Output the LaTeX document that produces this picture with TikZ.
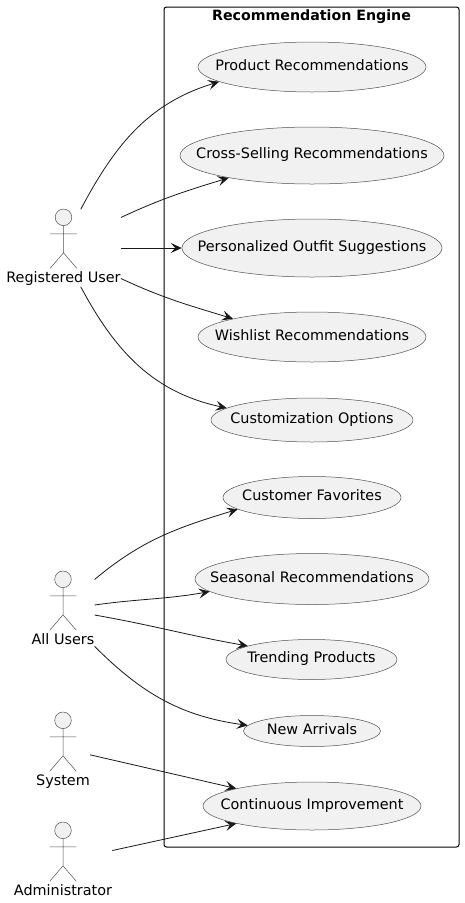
\documentclass[tikz,border=0pt]{standalone}
\usepackage{fontspec}
\setmainfont{DejaVu Sans}
\usetikzlibrary {arrows.meta, positioning, shapes.geometric}

\definecolor{ucfill}{HTML}{F1F1F1}
\definecolor{ucline}{HTML}{181818}
\definecolor{ucthin}{HTML}{505050}

\tikzset{
    usecase/.style = {ellipse, draw = ucthin, line width = 0.5pt, fill = ucfill, inner sep = -40pt, text height = 10pt, text depth = 3.5pt},
    actor/.style   = {rectangle, inner sep = 0pt, text height = 73pt, text depth = 4pt},
    actorfig/.pic  = {
        \draw[ucthin, line width = 0.5pt, fill = ucfill] (0, 8) circle (8.3);
        \draw[ucthin, line width = 0.5pt] (0, 16.3) -- (0, 43.5) (-13.3, 24.5) -- (13.3, 24.5)
            (-13.3, 59) -- (0, 43.5) -- (13.3, 59);
    },
}

\begin{document}
\begin{tikzpicture}[
    x=1pt,
    y=-1pt,
    font=\fontsize{14.4}{16}\selectfont,
    >={Stealth[length=11pt, width=10pt, inset=4.5pt]},
]
    \useasboundingbox (0, 0) rectangle (464, 903);

    \node[rectangle, draw = black, line width = 1pt, rounded corners = 2.5pt, minimum width = 295pt, minimum height = 840pt] (RE) at (311.5, 427) {};
    \node[below = 3pt of RE.north, inner sep = 0pt, font = \fontsize{14.2}{16}\selectfont\bfseries] (RETitle) {Recommendation Engine};

    \node[usecase, minimum width = 228pt, minimum height = 50pt] (PR) at (312, 67)    {Product Recommendations};
    \node[usecase, minimum width = 264pt, minimum height = 57pt] (CS) at (312, 155.5) {Cross-Selling Recommendations};
    \node[usecase, minimum width = 260pt, minimum height = 58pt] (PO) at (312, 248)   {Personalized Outfit Suggestions};
    \node[usecase, minimum width = 228pt, minimum height = 50pt] (WL) at (312, 337)   {Wishlist Recommendations};
    \node[usecase, minimum width = 202pt, minimum height = 44pt] (CO) at (312, 420)   {Customization Options};
    \node[usecase, minimum width = 178pt, minimum height = 42pt] (CF) at (312, 497.5) {Customer Favorites};
    \node[usecase, minimum width = 234pt, minimum height = 51pt] (SR) at (312, 579)   {Seasonal Recommendations};
    \node[usecase, minimum width = 171pt, minimum height = 40pt] (TP) at (311.5, 659.5) {Trending Products};
    \node[usecase, minimum width = 137pt, minimum height = 31pt] (NA) at (312, 731)   {New Arrivals};
    \node[usecase, minimum width = 218pt, minimum height = 48pt] (CI) at (312, 806)   {Continuous Improvement};

    \node[actor] (RU) at (63.5, 248) {Registered User};
    \node[actor] (AU) at (63, 610)   {All Users};
    \node[actor] (SY) at (63, 751)   {System};
    \node[actor] (AD) at (63, 861)   {Administrator};

    \pic at (RU.north) {actorfig};
    \pic at (AU.north) {actorfig};
    \pic at (SY.north) {actorfig};
    \pic at (AD.north) {actorfig};

    \path[every edge/.style = {draw = ucline, line width = 0.8pt, ->}]

        (RU.66)  edge [out = 62,  in = 197] (PR.189.5)
        (RU.28)  edge [out = 25,  in = 197] (CS.195.2)
        (RU.east) edge                      (PO.west)
        (RU.-28) edge [out = -25, in = 163] (WL.167)
        (RU.-66) edge [out = -62, in = 168] (CO.172)

        (AU.44)  edge [out = 40,  in = 197] (CF.189.2)
        (AU.9.5) edge [out = 8,   in = 190] (SR.187.3)
        (AU.-9.5) edge [out = -10, in = 170] (TP.168.3)
        (AU.-49) edge [out = -45, in = 172] (NA.175)

        (SY.-8.4) edge                      (CI.167.6)
        (AD.12.4) edge                      (CI.193)
    ;
\end{tikzpicture}
\end{document}
